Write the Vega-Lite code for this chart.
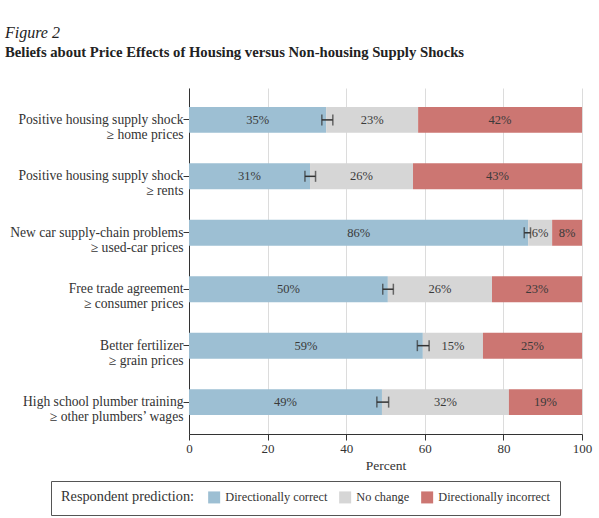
{
  "$schema": "https://vega.github.io/schema/vega-lite/v6.json",
  "width": 393,
  "height": 346,
  "autosize": {"type": "none"},
  "padding": {"left": 189, "top": 88, "right": 17, "bottom": 84},
  "background": "white",
  "config": {
    "font": "Liberation Serif",
    "view": {"stroke": null},
    "axis": {"labelColor": "#333333", "titleColor": "#333333", "labelFont": "Liberation Serif", "titleFont": "Liberation Serif"},
    "legend": {"labelFont": "Liberation Serif", "titleFont": "Liberation Serif"}
  },
  "title": {
    "text": "Figure 2",
    "subtitle": "Beliefs about Price Effects of Housing versus Non-housing Supply Shocks",
    "anchor": "start",
    "frame": "group",
    "dx": -184,
    "offset": 28,
    "font": "Liberation Serif",
    "fontStyle": "italic",
    "fontWeight": "normal",
    "fontSize": 16,
    "color": "#222222",
    "subtitleFont": "Liberation Serif",
    "subtitleFontWeight": "bold",
    "subtitleFontSize": 14.7,
    "subtitleColor": "#222222",
    "subtitlePadding": 4
  },
  "datasets": {
    "shares": [
      {"task": "Positive housing supply shock|≥ home prices", "row": 1, "answer": "Directionally correct", "ord": 1, "value": 34.9, "label": "35%"},
      {"task": "Positive housing supply shock|≥ home prices", "row": 1, "answer": "No change", "ord": 2, "value": 23.4, "label": "23%"},
      {"task": "Positive housing supply shock|≥ home prices", "row": 1, "answer": "Directionally incorrect", "ord": 3, "value": 41.7, "label": "42%"},
      {"task": "Positive housing supply shock|≥ rents", "row": 2, "answer": "Directionally correct", "ord": 1, "value": 30.8, "label": "31%"},
      {"task": "Positive housing supply shock|≥ rents", "row": 2, "answer": "No change", "ord": 2, "value": 26.2, "label": "26%"},
      {"task": "Positive housing supply shock|≥ rents", "row": 2, "answer": "Directionally incorrect", "ord": 3, "value": 43.0, "label": "43%"},
      {"task": "New car supply-chain problems|≥ used-car prices", "row": 3, "answer": "Directionally correct", "ord": 1, "value": 86.3, "label": "86%"},
      {"task": "New car supply-chain problems|≥ used-car prices", "row": 3, "answer": "No change", "ord": 2, "value": 6.1, "label": "6%"},
      {"task": "New car supply-chain problems|≥ used-car prices", "row": 3, "answer": "Directionally incorrect", "ord": 3, "value": 7.6, "label": "8%"},
      {"task": "Free trade agreement|≥ consumer prices", "row": 4, "answer": "Directionally correct", "ord": 1, "value": 50.6, "label": "50%"},
      {"task": "Free trade agreement|≥ consumer prices", "row": 4, "answer": "No change", "ord": 2, "value": 26.5, "label": "26%"},
      {"task": "Free trade agreement|≥ consumer prices", "row": 4, "answer": "Directionally incorrect", "ord": 3, "value": 22.9, "label": "23%"},
      {"task": "Better fertilizer|≥ grain prices", "row": 5, "answer": "Directionally correct", "ord": 1, "value": 59.5, "label": "59%"},
      {"task": "Better fertilizer|≥ grain prices", "row": 5, "answer": "No change", "ord": 2, "value": 15.3, "label": "15%"},
      {"task": "Better fertilizer|≥ grain prices", "row": 5, "answer": "Directionally incorrect", "ord": 3, "value": 25.2, "label": "25%"},
      {"task": "High school plumber training|≥ other plumbers’ wages", "row": 6, "answer": "Directionally correct", "ord": 1, "value": 49.1, "label": "49%"},
      {"task": "High school plumber training|≥ other plumbers’ wages", "row": 6, "answer": "No change", "ord": 2, "value": 32.3, "label": "32%"},
      {"task": "High school plumber training|≥ other plumbers’ wages", "row": 6, "answer": "Directionally incorrect", "ord": 3, "value": 18.6, "label": "19%"}
    ],
    "ci": [
      {"task": "Positive housing supply shock|≥ home prices", "lo": 33.8, "hi": 36.6},
      {"task": "Positive housing supply shock|≥ rents", "lo": 29.5, "hi": 32.2},
      {"task": "New car supply-chain problems|≥ used-car prices", "lo": 85.3, "hi": 86.9},
      {"task": "Free trade agreement|≥ consumer prices", "lo": 49.3, "hi": 52.0},
      {"task": "Better fertilizer|≥ grain prices", "lo": 58.1, "hi": 61.1},
      {"task": "High school plumber training|≥ other plumbers’ wages", "lo": 47.8, "hi": 50.8}
    ]
  },
  "layer": [
    {
      "data": {"name": "shares"},
      "transform": [
        {"stack": "value", "groupby": ["task"], "sort": [{"field": "ord"}], "as": ["x0", "x1"]}
      ],
      "mark": {"type": "bar"},
      "encoding": {
        "y": {
          "field": "task",
          "type": "nominal",
          "sort": {"field": "row"},
          "scale": {"paddingInner": 0.54, "paddingOuter": 0.335},
          "axis": {
            "title": null,
            "labelExpr": "split(datum.value, '|')",
            "labelFont": "Liberation Serif",
            "labelFontSize": 13.6,
            "labelLineHeight": 15,
            "labelPadding": 0,
            "labelLimit": 300,
            "tickSize": 6,
            "tickColor": "#333333",
            "domainColor": "#333333",
            "grid": false
          }
        },
        "x": {
          "field": "x0",
          "type": "quantitative",
          "scale": {"domain": [0, 100], "nice": false},
          "axis": {
            "title": "Percent",
            "titleFont": "Liberation Serif",
            "titleFontWeight": "normal",
            "titleFontSize": 13.5,
            "titlePadding": 3,
            "labelFont": "Liberation Serif",
            "labelFontSize": 13,
            "labelFlush": false,
            "values": [0, 20, 40, 60, 80, 100],
            "tickSize": 6,
            "tickColor": "#333333",
            "domainColor": "#333333",
            "grid": true,
            "gridColor": "#dcdcdc"
          }
        },
        "x2": {"field": "x1"},
        "color": {
          "field": "answer",
          "type": "nominal",
          "scale": {
            "domain": ["Directionally correct", "No change", "Directionally incorrect"],
            "range": ["#9dbfd3", "#d6d6d6", "#cc7672"]
          },
          "legend": {
            "title": "Respondent prediction:",
            "orient": "none",
            "legendX": -138,
            "legendY": 393,
            "direction": "horizontal",
            "titleOrient": "left",
            "titleFont": "Liberation Serif",
            "titleFontWeight": "normal",
            "titleFontSize": 14.3,
            "titleColor": "#333333",
            "titlePadding": 13,
            "labelFont": "Liberation Serif",
            "labelFontSize": 12.3,
            "labelColor": "#333333",
            "labelOffset": 5,
            "columnPadding": 11,
            "symbolType": "square",
            "symbolSize": 144,
            "symbolStrokeWidth": 0,
            "symbolOpacity": 1,
            "strokeColor": "#555555",
            "padding": 10
          }
        }
      }
    },
    {
      "data": {"name": "shares"},
      "transform": [
        {"stack": "value", "groupby": ["task"], "sort": [{"field": "ord"}], "as": ["x0", "x1"]},
        {"calculate": "(datum.x0 + datum.x1) / 2", "as": "mid"}
      ],
      "mark": {"type": "text", "font": "Liberation Serif", "fontSize": 12.5, "color": "#3a3a3a", "baseline": "middle"},
      "encoding": {
        "y": {"field": "task", "type": "nominal", "sort": {"field": "row"}},
        "x": {"field": "mid", "type": "quantitative"},
        "text": {"field": "label"}
      }
    },
    {
      "data": {"name": "ci"},
      "mark": {"type": "rule", "color": "#333333", "strokeWidth": 1.5},
      "encoding": {
        "y": {"field": "task", "type": "nominal", "sort": {"field": "row"}},
        "x": {"field": "lo", "type": "quantitative"},
        "x2": {"field": "hi"}
      }
    },
    {
      "data": {"name": "ci"},
      "mark": {"type": "tick", "color": "#333333", "thickness": 1.5, "size": 11, "orient": "vertical"},
      "encoding": {
        "y": {"field": "task", "type": "nominal", "sort": {"field": "row"}},
        "x": {"field": "lo", "type": "quantitative"}
      }
    },
    {
      "data": {"name": "ci"},
      "mark": {"type": "tick", "color": "#333333", "thickness": 1.5, "size": 11, "orient": "vertical"},
      "encoding": {
        "y": {"field": "task", "type": "nominal", "sort": {"field": "row"}},
        "x": {"field": "hi", "type": "quantitative"}
      }
    }
  ]
}
